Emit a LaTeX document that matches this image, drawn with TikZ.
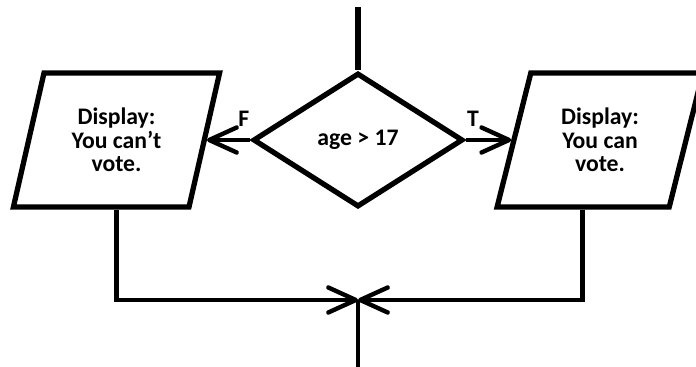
\documentclass[tikz,border=0pt]{standalone}
\usepackage{fontspec}
\setmainfont{Carlito}
\usetikzlibrary{shapes.geometric,arrows.meta,positioning}

\begin{document}
\begin{tikzpicture}[
    box/.style={trapezium, trapezium left angle=73.4, trapezium right angle=106.6,
      trapezium stretches=true, draw, line width=3pt, minimum width=4.14cm,
      minimum height=2.68cm, inner sep=0pt, align=center,
      font=\bfseries\fontsize{13.5}{13.3}\selectfont},
    cond/.style={diamond, draw, line width=3pt, minimum width=4.2cm,
      minimum height=2.68cm, inner sep=0pt,
      font=\bfseries\fontsize{13.5}{13.3}\selectfont},
    flow/.style={line width=2.5pt, -{Straight Barb[length=0.55cm,width=0.5cm,round]}},
    lbl/.style={font=\bfseries\fontsize{13.5}{13.5}\selectfont}
  ]
    \useasboundingbox (0,0) rectangle (13.92,7.34);
    \coordinate (start) at (7.16,7.2);
    \node[cond] (age) at (7.16,4.54) {age > 17};
    \node[box] (no) at (2.33,4.54) {Display:\\You can’t\\vote.};
    \node[box] (yes) at (12.0,4.54) {Display:\\You can\\vote.};
    \coordinate (join) at (7.16,1.34);
    \coordinate (stop) at (7.16,0);
    \draw[line width=3pt] (start) -- (age.north);
    \draw[flow] (age.west) -- node[lbl,pos=0.15,above=1mm] (f) {F} (no.right side);
    \draw[flow] (age.east) -- node[lbl,pos=0.16,above=1mm] (t) {T} (yes.left side);
    % both branches meet again below
    \draw[flow] (no.south) |- (join);
    \draw[flow] (yes.bottom side) |- (join);
    \draw[line width=2.5pt] (join) -- (stop);
\end{tikzpicture}
\end{document}
